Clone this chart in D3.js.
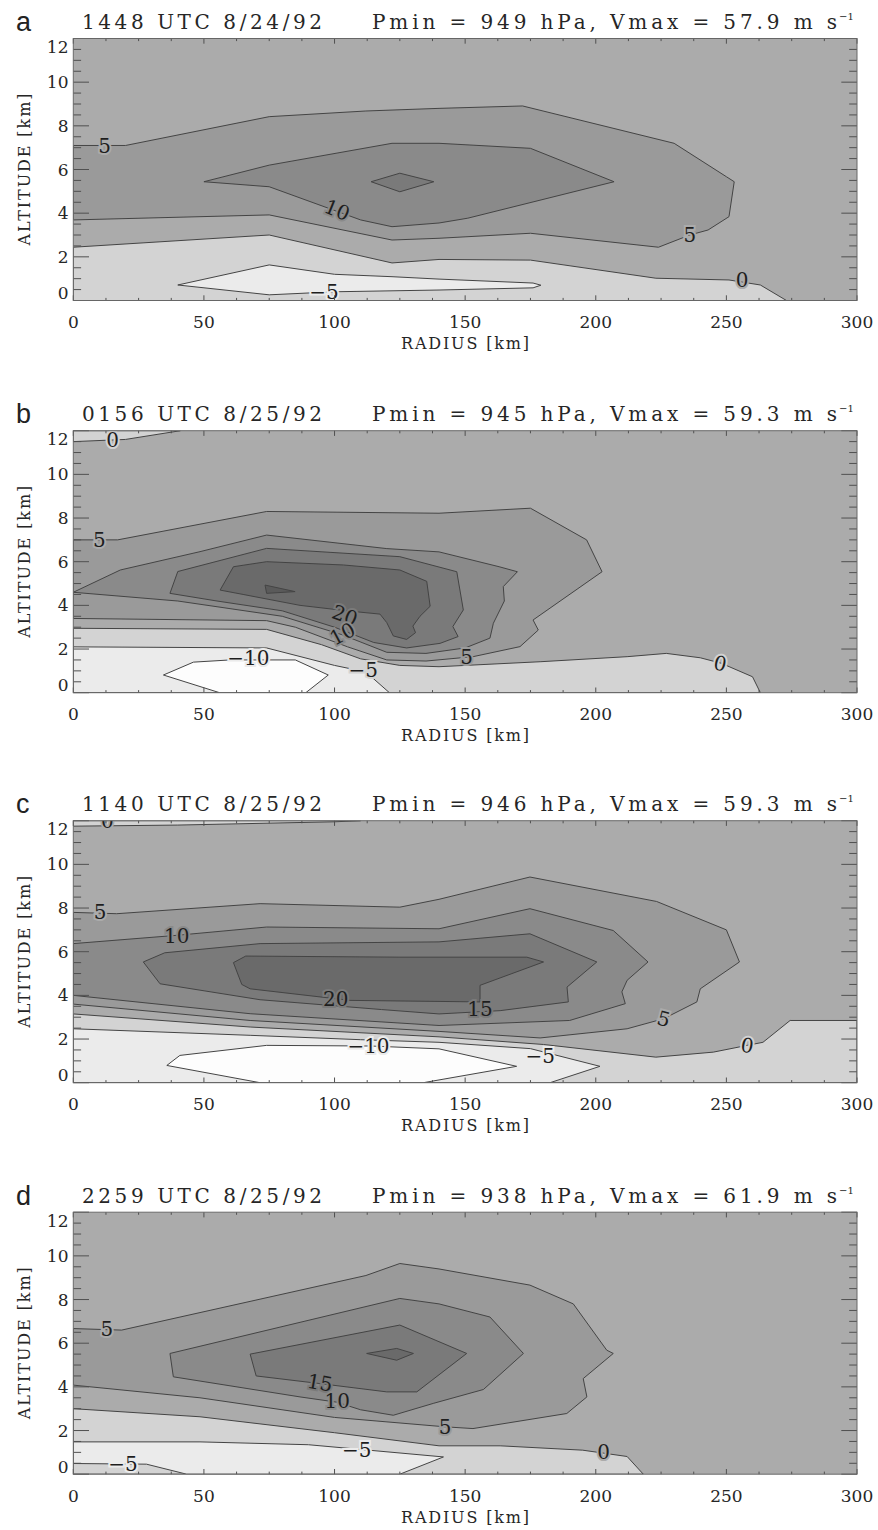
<!DOCTYPE html>
<html>
<head>
<meta charset="utf-8">
<script src="https://cdn.jsdelivr.net/npm/d3@7"></script>
<style>
    body { margin: 0; background: #ffffff; }
    text { font-family: "DejaVu Serif", serif; }
</style>
</head>
<body>
<script>
// panel titles
var panelLetters = ["a", "b", "c", "d"];
var panelTimes = ["1448 UTC 8/24/92", "0156 UTC 8/25/92", "1140 UTC 8/25/92", "2259 UTC 8/25/92"];
var panelPmin = [949, 945, 946, 938];
var panelVmax = [57.9, 59.3, 59.3, 61.9];

// axis ticks
var radiusTicks = [0, 50, 100, 150, 200, 250, 300];
var altitudeTicks = [0, 2, 4, 6, 8, 10, 12];

// contour levels and their gray shades
var levelEdges = [-10, -5, 0, 5, 10, 15, 20, 25];
var levelGrays = ["#fdfdfd", "#ebebeb", "#d3d3d3", "#ababab", "#9a9a9a", "#8a8a8a", "#7a7a7a", "#6a6a6a", "#5a5a5a"];

// contours: level, outline as [radius km, altitude km]
// level > 0 encloses larger values, level <= 0 encloses smaller values
var contoursA = [
    {level: 0, pts: [[0,2.44],[75,3.0],[122,1.72],[140,1.88],[175,1.85],[223,1.02],[251,0.94],[263,0.71],[273,0],[0,0]]},
    {level: -5, pts: [[40,0.71],[75,1.63],[100,1.2],[122,1.09],[140,0.98],[176,0.8],[179,0.7],[176,0.58],[140,0.48],[100,0.4],[75,0.26]]},
    {level: 5, pts: [[0,7.1],[20,7.1],[75,8.42],[112,8.68],[140,8.8],[172,8.91],[230,7.2],[250,5.67],[253,5.44],[251,3.84],[243,3.23],[236,3.0],[224,2.44],[175,3.08],[140,2.85],[122,2.77],[75,3.92],[0,3.69]]},
    {level: 10, pts: [[50,5.44],[75,6.2],[122,7.2],[140,7.2],[175,6.97],[207,5.44],[151,3.77],[140,3.55],[122,3.38],[110,3.69],[75,5.21]]},
    {level: 15, pts: [[114,5.44],[125,5.83],[138,5.44],[125,4.98]]}
];
var labelsA = [
    {text: "5", r: 12, z: 7.1, angle: 0},
    {text: "10", r: 101, z: 4.15, angle: 22},
    {text: "5", r: 236, z: 3.0, angle: 0},
    {text: "0", r: 256, z: 0.94, angle: 0},
    {text: "\u22125", r: 96, z: 0.4, angle: 0}
];

var contoursB = [
    {level: 0, pts: [[0,11.5],[20,11.6],[41,12],[0,12]]},
    {level: 0, pts: [[0,2.95],[74,2.9],[95,2.2],[110,1.55],[125,1.25],[140,1.19],[179,1.42],[212,1.65],[227,1.8],[240,1.6],[248,1.35],[260,0.73],[263,0],[0,0]]},
    {level: -5, pts: [[0,2.1],[74,2.05],[100,1.25],[112,0.95],[121,0],[0,0]]},
    {level: -10, pts: [[34.5,0.81],[46,1.4],[60,1.5],[85,1.5],[97.6,0.81],[89,0],[56,0]]},
    {level: 5, pts: [[0,7.0],[17,7.0],[74,8.3],[140,8.22],[175,8.45],[196.5,7.0],[202.4,5.54],[176,3.33],[178,2.87],[171,2.11],[153,1.65],[135,1.45],[120,1.5],[105,2.1],[85,3.0],[74,3.3],[0,3.4]]},
    {level: 10, pts: [[0,4.6],[18,5.62],[48.5,6.46],[74,7.22],[120,6.6],[140,6.45],[163,5.77],[170,5.54],[164.6,4.86],[165,4.2],[160.8,3.18],[159.5,2.5],[150,2.05],[135,1.8],[120,1.85],[103,2.65],[80,3.5],[40,4.2]]},
    {level: 15, pts: [[37,4.55],[40,5.55],[74,6.61],[125,6.23],[146.8,5.54],[149.3,3.79],[145.3,3.03],[147.3,2.57],[140.4,2.26],[127.6,2.05],[115,2.3],[100,3.0],[80,3.75],[55,4.2]]},
    {level: 20, pts: [[56.2,4.7],[61.3,5.77],[74,6.0],[103.4,5.85],[125,5.62],[135.3,5.1],[136.6,3.96],[132.7,3.5],[130,3.05],[131,2.75],[127.6,2.44],[122.5,2.6],[120,3.21],[117.4,3.6],[104.7,3.75],[86.8,4.0],[65,4.5]]},
    {level: 25, pts: [[73.4,4.93],[84.9,4.63],[74,4.55]]}
];
var labelsB = [
    {text: "0", r: 15, z: 11.58, angle: 0},
    {text: "5", r: 10, z: 7.0, angle: 0},
    {text: "20", r: 104, z: 3.55, angle: 20},
    {text: "10", r: 103, z: 2.7, angle: -28},
    {text: "\u221210", r: 67, z: 1.62, angle: 0},
    {text: "\u22125", r: 111, z: 1.04, angle: 0},
    {text: "5", r: 150.6, z: 1.65, angle: 0},
    {text: "0", r: 247.6, z: 1.35, angle: 12}
];

var contoursC = [
    {level: 0, pts: [[0,11.75],[40,11.8],[100,11.95],[110,12],[0,12]]},
    {level: 0, pts: [[0,3.15],[67.7,2.55],[140,2.1],[180,1.75],[223,1.17],[245,1.4],[258,1.71],[264,1.85],[274.4,2.85],[300,2.85],[300,0],[0,0]]},
    {level: -5, pts: [[0,2.47],[67.7,2.17],[110,1.97],[140,1.85],[175,1.56],[201.6,0.75],[182.5,0],[0,0]]},
    {level: -10, pts: [[35.8,0.79],[40.8,1.25],[74,1.71],[114,1.68],[140,1.55],[169.7,0.75],[134,0],[71.5,0]]},
    {level: 5, pts: [[0,7.8],[16.6,7.74],[71.5,8.2],[125,8.04],[140,8.4],[174.8,9.42],[223.3,8.3],[250,7.0],[255,5.53],[240,4.3],[238.7,3.7],[226,2.93],[212,2.47],[178.7,2.05],[140,2.35],[67.7,2.85],[0,3.6]]},
    {level: 10, pts: [[0,6.37],[39.6,6.75],[74,7.13],[140,7.05],[174.8,7.97],[206.7,6.97],[220,5.53],[212,4.69],[210,4.16],[211.3,3.62],[190,2.85],[140,2.62],[67.7,3.16],[0,4.0]]},
    {level: 15, pts: [[26.8,5.53],[35,5.95],[71.5,6.37],[140,6.45],[174.8,6.82],[200.4,5.53],[189,4.38],[189.5,3.7],[163.4,3.3],[140,3.15],[118,3.35],[71.5,3.8],[33.2,4.53]]},
    {level: 20, pts: [[61.3,5.5],[66,5.8],[125,5.75],[173.6,5.75],[180,5.53],[155.7,4.46],[155.7,3.7],[105.9,3.77],[67.7,4.3],[64.5,4.5]]}
];
var labelsC = [
    {text: "0", r: 13, z: 12.0, angle: 0},
    {text: "5", r: 10.3, z: 7.82, angle: 0},
    {text: "10", r: 39.6, z: 6.75, angle: 0},
    {text: "20", r: 100.5, z: 3.84, angle: 0},
    {text: "15", r: 155.7, z: 3.39, angle: 0},
    {text: "5", r: 226, z: 2.93, angle: 15},
    {text: "0", r: 258, z: 1.71, angle: 10},
    {text: "\u221210", r: 113, z: 1.71, angle: 0},
    {text: "\u22125", r: 178.7, z: 1.25, angle: 0}
];

var contoursD = [
    {level: 0, pts: [[0,3.0],[48.5,2.63],[100,1.9],[140,1.3],[163.4,1.3],[195,1.1],[212,0.81],[218.2,0],[0,0]]},
    {level: -5, pts: [[0,1.48],[48.5,1.48],[90,1.35],[108.5,1.15],[141.7,0.79],[125,0],[43.4,0],[28,0.46],[0,0.49]]},
    {level: 5, pts: [[0,6.67],[18.5,6.6],[112,9.1],[125,9.65],[140,9.4],[174.8,8.66],[191.4,7.8],[204.2,5.68],[206.7,5.53],[195.2,4.38],[196.6,3.54],[188.9,2.78],[153,2.09],[142.3,2.17],[100,2.6],[48.5,3.5],[0,4.08]]},
    {level: 10, pts: [[37,5.53],[125,8.05],[140,7.8],[159.5,7.2],[172.3,5.53],[157,3.88],[138,3.25],[122.5,2.7],[110,2.95],[100.8,3.3],[86.8,3.54],[38.3,4.46]]},
    {level: 15, pts: [[67.7,5.5],[125,6.83],[150.6,5.53],[131.5,3.77],[120,3.77],[94.4,4.15],[70,4.5]]},
    {level: 20, pts: [[112.3,5.53],[123.8,5.76],[130.2,5.53],[123.8,5.22]]}
];
var labelsD = [
    {text: "5", r: 12.8, z: 6.67, angle: 0},
    {text: "15", r: 94.4, z: 4.2, angle: 10},
    {text: "10", r: 101, z: 3.35, angle: 0},
    {text: "5", r: 142.3, z: 2.17, angle: 0},
    {text: "0", r: 203, z: 1.02, angle: 0},
    {text: "\u22125", r: 108.5, z: 1.1, angle: 0},
    {text: "\u22125", r: 19, z: 0.49, angle: 0}
];

// dimensions
var width = 878;
var height = 1530;
var panelTop = [38.5, 430.7, 820.7, 1212.2];
var plotH = 262;
var ink = "#262626";

var svg = d3.select("body")
    .append("svg")
    .attr("width", width)
    .attr("height", height);

var x = d3.scaleLinear().domain([0, 300]).range([73.3, 857]);
var shade = d3.scaleThreshold().domain(levelEdges).range(levelGrays);

function fillOf(d) {
    return d.level > 0 ? shade(d.level + 0.1) : shade(d.level - 0.1);
}

// gray of the last band drawn under a point
function fillAt(ordered, r, z) {
    var c = shade(2.5);
    ordered.forEach(function (d) {
        if (d3.polygonContains(d.pts, [r, z])) c = fillOf(d);
    });
    return c;
}

function drawPanel(i, contours, labels) {
    var top = panelTop[i];
    var bottom = top + plotH;
    var y = d3.scaleLinear().domain([0, 12]).range([bottom, top]);
    var g = svg.append("g").attr("class", "panel" + i);

    g.append("clipPath")
        .attr("id", "clip" + i)
        .append("rect")
        .attr("x", x(0))
        .attr("y", top)
        .attr("width", x(300) - x(0))
        .attr("height", plotH);

    var plot = g.append("g").attr("clip-path", "url(#clip" + i + ")");

    plot.append("rect")
        .attr("x", x(0))
        .attr("y", top)
        .attr("width", x(300) - x(0))
        .attr("height", plotH)
        .style("fill", shade(2.5));

    // negative regions from 0 downwards, then positive ones upwards
    var ordered = contours.slice().sort(function (a, b) {
        var ka = a.level <= 0 ? -a.level : 100 + a.level;
        var kb = b.level <= 0 ? -b.level : 100 + b.level;
        return ka - kb;
    });

    var line = d3.line()
        .x(function (d) { return x(d[0]); })
        .y(function (d) { return y(d[1]); })
        .curve(d3.curveLinearClosed);

    plot.selectAll(".band")
        .data(ordered)
        .enter()
        .append("path")
        .attr("class", "band")
        .attr("d", function (d) { return line(d.pts); })
        .style("fill", fillOf)
        .style("stroke", "#444444")
        .style("stroke-width", "1px");

    plot.selectAll(".clabel")
        .data(labels)
        .enter()
        .append("text")
        .attr("class", "clabel")
        .attr("transform", function (d) {
            return "translate(" + x(d.r) + "," + y(d.z) + ") rotate(" + d.angle + ")";
        })
        .attr("text-anchor", "middle")
        .attr("dy", "0.36em")
        .style("font-size", "20px")
        .style("fill", "#1e1e1e")
        .style("stroke", function (d) { return fillAt(ordered, d.r, d.z); })
        .style("stroke-width", "4px")
        .style("paint-order", "stroke")
        .text(function (d) { return d.text; });

    // ticks inside the frame, idl style
    var ticks = g.append("g").style("stroke", "#505050").style("stroke-width", "1px");
    var yMinor = d3.range(0, 12.01, 0.5);
    var xMinor = d3.range(0, 300.1, 12.5);
    yMinor.forEach(function (v) {
        var len = v % 2 === 0 ? 15.7 : 7.8;
        ticks.append("line").attr("x1", x(0)).attr("x2", x(0) + len).attr("y1", y(v)).attr("y2", y(v));
        ticks.append("line").attr("x1", x(300)).attr("x2", x(300) - len).attr("y1", y(v)).attr("y2", y(v));
    });
    xMinor.forEach(function (v) {
        var len = v % 50 === 0 ? 5.2 : 2.6;
        ticks.append("line").attr("x1", x(v)).attr("x2", x(v)).attr("y1", bottom).attr("y2", bottom - len);
        ticks.append("line").attr("x1", x(v)).attr("x2", x(v)).attr("y1", top).attr("y2", top + len);
    });

    g.append("rect")
        .attr("x", x(0))
        .attr("y", top)
        .attr("width", x(300) - x(0))
        .attr("height", plotH)
        .style("fill", "none")
        .style("stroke", "#666666")
        .style("stroke-width", "1px");

    // tick labels
    g.selectAll(".xlab")
        .data(radiusTicks)
        .enter()
        .append("text")
        .attr("class", "xlab")
        .attr("x", function (d) { return x(d); })
        .attr("y", bottom + 27.5)
        .attr("text-anchor", "middle")
        .style("font-size", "17px")
        .style("fill", ink)
        .text(function (d) { return d; });

    g.selectAll(".ylab")
        .data(altitudeTicks)
        .enter()
        .append("text")
        .attr("class", "ylab")
        .attr("x", 68.5)
        .attr("y", function (d) {
            if (d === 0) return y(d) - 1.4;
            if (d === 12) return y(d) + 14.6;
            return y(d) + 6.1;
        })
        .attr("text-anchor", "end")
        .style("font-size", "17px")
        .style("fill", ink)
        .text(function (d) { return d; });

    // axis titles
    g.append("text")
        .attr("x", 465)
        .attr("y", bottom + 48.5)
        .attr("text-anchor", "middle")
        .attr("textLength", 128)
        .attr("lengthAdjust", "spacing")
        .style("font-size", "16px")
        .style("fill", ink)
        .text("RADIUS [km]");

    g.append("text")
        .attr("transform", "translate(30," + (top + plotH / 2) + ") rotate(-90)")
        .attr("text-anchor", "middle")
        .attr("textLength", 152)
        .attr("lengthAdjust", "spacing")
        .style("font-size", "16px")
        .style("fill", ink)
        .text("ALTITUDE [km]");

    // panel title
    g.append("text")
        .attr("x", 16)
        .attr("y", top - 7.5)
        .style("font-family", "'Liberation Sans', Arial, sans-serif")
        .style("font-size", "27px")
        .style("fill", "#222222")
        .text(panelLetters[i]);

    g.append("text")
        .attr("x", 82)
        .attr("y", top - 9.5)
        .attr("textLength", 240)
        .attr("lengthAdjust", "spacing")
        .style("font-size", "20px")
        .style("fill", ink)
        .text(panelTimes[i]);

    g.append("text")
        .attr("x", 372)
        .attr("y", top - 9.5)
        .attr("textLength", 465)
        .attr("lengthAdjust", "spacing")
        .style("font-size", "20px")
        .style("fill", ink)
        .text("Pmin = " + panelPmin[i] + " hPa, Vmax = " + panelVmax[i].toFixed(1) + " m s");

    g.append("text")
        .attr("x", 839)
        .attr("y", top - 18.5)
        .style("font-size", "10px")
        .style("fill", ink)
        .text("\u22121");
}

drawPanel(0, contoursA, labelsA);
drawPanel(1, contoursB, labelsB);
drawPanel(2, contoursC, labelsC);
drawPanel(3, contoursD, labelsD);
</script>
</body>
</html>
